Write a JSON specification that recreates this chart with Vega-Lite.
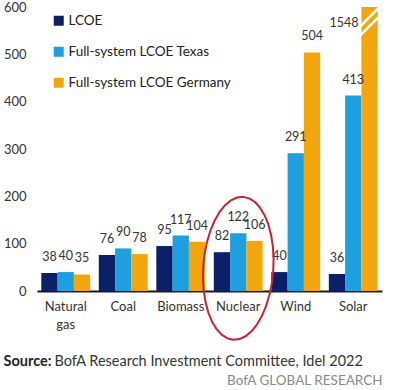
{
  "$schema": "https://vega.github.io/schema/vega-lite/v6.json",
  "width": 345,
  "height": 284,
  "autosize": {"type": "none"},
  "padding": {"left": 37, "top": 7, "right": 16, "bottom": 99},
  "background": "white",
  "config": {
    "view": {"stroke": null},
    "font": "Lato"
  },
  "title": {
    "text": "BofA GLOBAL RESEARCH",
    "orient": "bottom",
    "anchor": "end",
    "fontSize": 13.5,
    "fontWeight": "normal",
    "color": "#8a8a8a",
    "offset": 6,
    "dx": -2,
    "font": "Lato"
  },
  "data": {
    "values": [
      {"category": "Natural gas", "series": "LCOE", "value": 38},
      {"category": "Natural gas", "series": "Full-system LCOE Texas", "value": 40},
      {"category": "Natural gas", "series": "Full-system LCOE Germany", "value": 35},
      {"category": "Coal", "series": "LCOE", "value": 76},
      {"category": "Coal", "series": "Full-system LCOE Texas", "value": 90},
      {"category": "Coal", "series": "Full-system LCOE Germany", "value": 78},
      {"category": "Biomass", "series": "LCOE", "value": 95},
      {"category": "Biomass", "series": "Full-system LCOE Texas", "value": 117},
      {"category": "Biomass", "series": "Full-system LCOE Germany", "value": 104},
      {"category": "Nuclear", "series": "LCOE", "value": 82},
      {"category": "Nuclear", "series": "Full-system LCOE Texas", "value": 122},
      {"category": "Nuclear", "series": "Full-system LCOE Germany", "value": 106},
      {"category": "Wind", "series": "LCOE", "value": 40},
      {"category": "Wind", "series": "Full-system LCOE Texas", "value": 291},
      {"category": "Wind", "series": "Full-system LCOE Germany", "value": 504},
      {"category": "Solar", "series": "LCOE", "value": 36},
      {"category": "Solar", "series": "Full-system LCOE Texas", "value": 413},
      {"category": "Solar", "series": "Full-system LCOE Germany", "value": 1548}
    ]
  },
  "layer": [
    {
      "mark": {"type": "bar"},
      "encoding": {
        "x": {
          "field": "category",
          "type": "nominal",
          "sort": ["Natural gas", "Coal", "Biomass", "Nuclear", "Wind", "Solar"],
          "scale": {"paddingInner": 0.15, "paddingOuter": 0.075},
          "axis": {
            "title": "BofA Research Investment Committee,  Idel 2022",
            "titleX": 17,
            "titleY": 70,
            "titleAlign": "left",
            "titleBaseline": "middle",
            "titleFontSize": 14.5,
            "titleFontWeight": "normal",
            "titleColor": "#333333",
            "labelAngle": 0,
            "labelFontSize": 13,
            "labelColor": "#333333",
            "labelPadding": 9,
            "labelBaseline": "top",
            "labelLineHeight": 18,
            "labelExpr": "datum.value == 'Natural gas' ? ['Natural', 'gas'] : datum.value",
            "ticks": false,
            "domainColor": "#1a1a1a",
            "domainWidth": 2
          }
        },
        "xOffset": {
          "field": "series",
          "sort": ["LCOE", "Full-system LCOE Texas", "Full-system LCOE Germany"]
        },
        "y": {
          "field": "value",
          "type": "quantitative",
          "scale": {"domain": [0, 600], "clamp": true, "nice": false},
          "axis": {
            "title": "Source:",
            "titleAngle": 0,
            "titleX": -34,
            "titleY": 354,
            "titleAlign": "left",
            "titleBaseline": "middle",
            "titleFontSize": 14.5,
            "titleFontWeight": "bold",
            "titleColor": "#222222",
            "values": [0, 100, 200, 300, 400, 500, 600],
            "grid": false,
            "domain": false,
            "ticks": false,
            "labelPadding": 11,
            "labelFontSize": 13,
            "labelColor": "#333333"
          }
        },
        "color": {
          "field": "series",
          "type": "nominal",
          "scale": {
            "domain": ["LCOE", "Full-system LCOE Texas", "Full-system LCOE Germany"],
            "range": ["#0b2066", "#1d9fe0", "#f2a60c"]
          },
          "legend": {
            "title": null,
            "orient": "none",
            "legendX": 15,
            "legendY": 7,
            "direction": "vertical",
            "symbolType": "square",
            "symbolSize": 100,
            "symbolStrokeWidth": 0,
            "labelFontSize": 13.5,
            "labelColor": "#222222",
            "labelOffset": 3,
            "labelLimit": 300,
            "rowPadding": 16,
            "padding": 0
          }
        }
      }
    },
    {
      "transform": [{"filter": "datum.value <= 600"}],
      "mark": {"type": "text", "align": "center", "baseline": "alphabetic", "dy": -12, "fontSize": 12.5, "color": "#333333"},
      "encoding": {
        "x": {"field": "category", "type": "nominal", "sort": ["Natural gas", "Coal", "Biomass", "Nuclear", "Wind", "Solar"]},
        "xOffset": {"field": "series", "sort": ["LCOE", "Full-system LCOE Texas", "Full-system LCOE Germany"]},
        "y": {"field": "value", "type": "quantitative"},
        "text": {"field": "value", "type": "quantitative"}
      }
    },
    {
      "transform": [{"filter": "datum.value > 600"}],
      "mark": {"type": "text", "align": "right", "baseline": "alphabetic", "dx": -11, "dy": 20, "fontSize": 12.5, "color": "#333333"},
      "encoding": {
        "x": {"field": "category", "type": "nominal", "sort": ["Natural gas", "Coal", "Biomass", "Nuclear", "Wind", "Solar"]},
        "xOffset": {"field": "series", "sort": ["LCOE", "Full-system LCOE Texas", "Full-system LCOE Germany"]},
        "y": {"field": "value", "type": "quantitative"},
        "text": {"field": "value", "type": "quantitative"}
      }
    },
    {
      "transform": [{"filter": "datum.value > 600"}],
      "mark": {"type": "point", "shape": "M -0.5 1 L 0.5 0 M -0.5 1.45 L 0.5 0.45", "size": 1600, "filled": false, "stroke": "white", "strokeWidth": 2.5, "opacity": 1},
      "encoding": {
        "x": {"field": "category", "type": "nominal", "sort": ["Natural gas", "Coal", "Biomass", "Nuclear", "Wind", "Solar"]},
        "xOffset": {"field": "series", "sort": ["LCOE", "Full-system LCOE Texas", "Full-system LCOE Germany"]},
        "y": {"field": "value", "type": "quantitative"}
      }
    },
    {
      "data": {"values": [{"category": "Nuclear", "center": 48}]},
      "mark": {"type": "point", "shape": "M 0 -1 L 0.085 -0.985 L 0.168 -0.94 L 0.245 -0.866 L 0.315 -0.766 L 0.375 -0.643 L 0.424 -0.5 L 0.46 -0.342 L 0.483 -0.174 L 0.49 0 L 0.483 0.174 L 0.46 0.342 L 0.424 0.5 L 0.375 0.643 L 0.315 0.766 L 0.245 0.866 L 0.168 0.94 L 0.085 0.985 L 0 1 L -0.085 0.985 L -0.168 0.94 L -0.245 0.866 L -0.315 0.766 L -0.375 0.643 L -0.424 0.5 L -0.46 0.342 L -0.483 0.174 L -0.49 0 L -0.483 -0.174 L -0.46 -0.342 L -0.424 -0.5 L -0.375 -0.643 L -0.315 -0.766 L -0.245 -0.866 L -0.168 -0.94 L -0.085 -0.985 Z", "size": 20500, "filled": false, "stroke": "#d0202e", "strokeWidth": 2, "strokeJoin": "round", "opacity": 1, "angle": 4},
      "encoding": {
        "x": {"field": "category", "type": "nominal", "sort": ["Natural gas", "Coal", "Biomass", "Nuclear", "Wind", "Solar"]},
        "y": {"field": "center", "type": "quantitative"}
      }
    }
  ]
}
